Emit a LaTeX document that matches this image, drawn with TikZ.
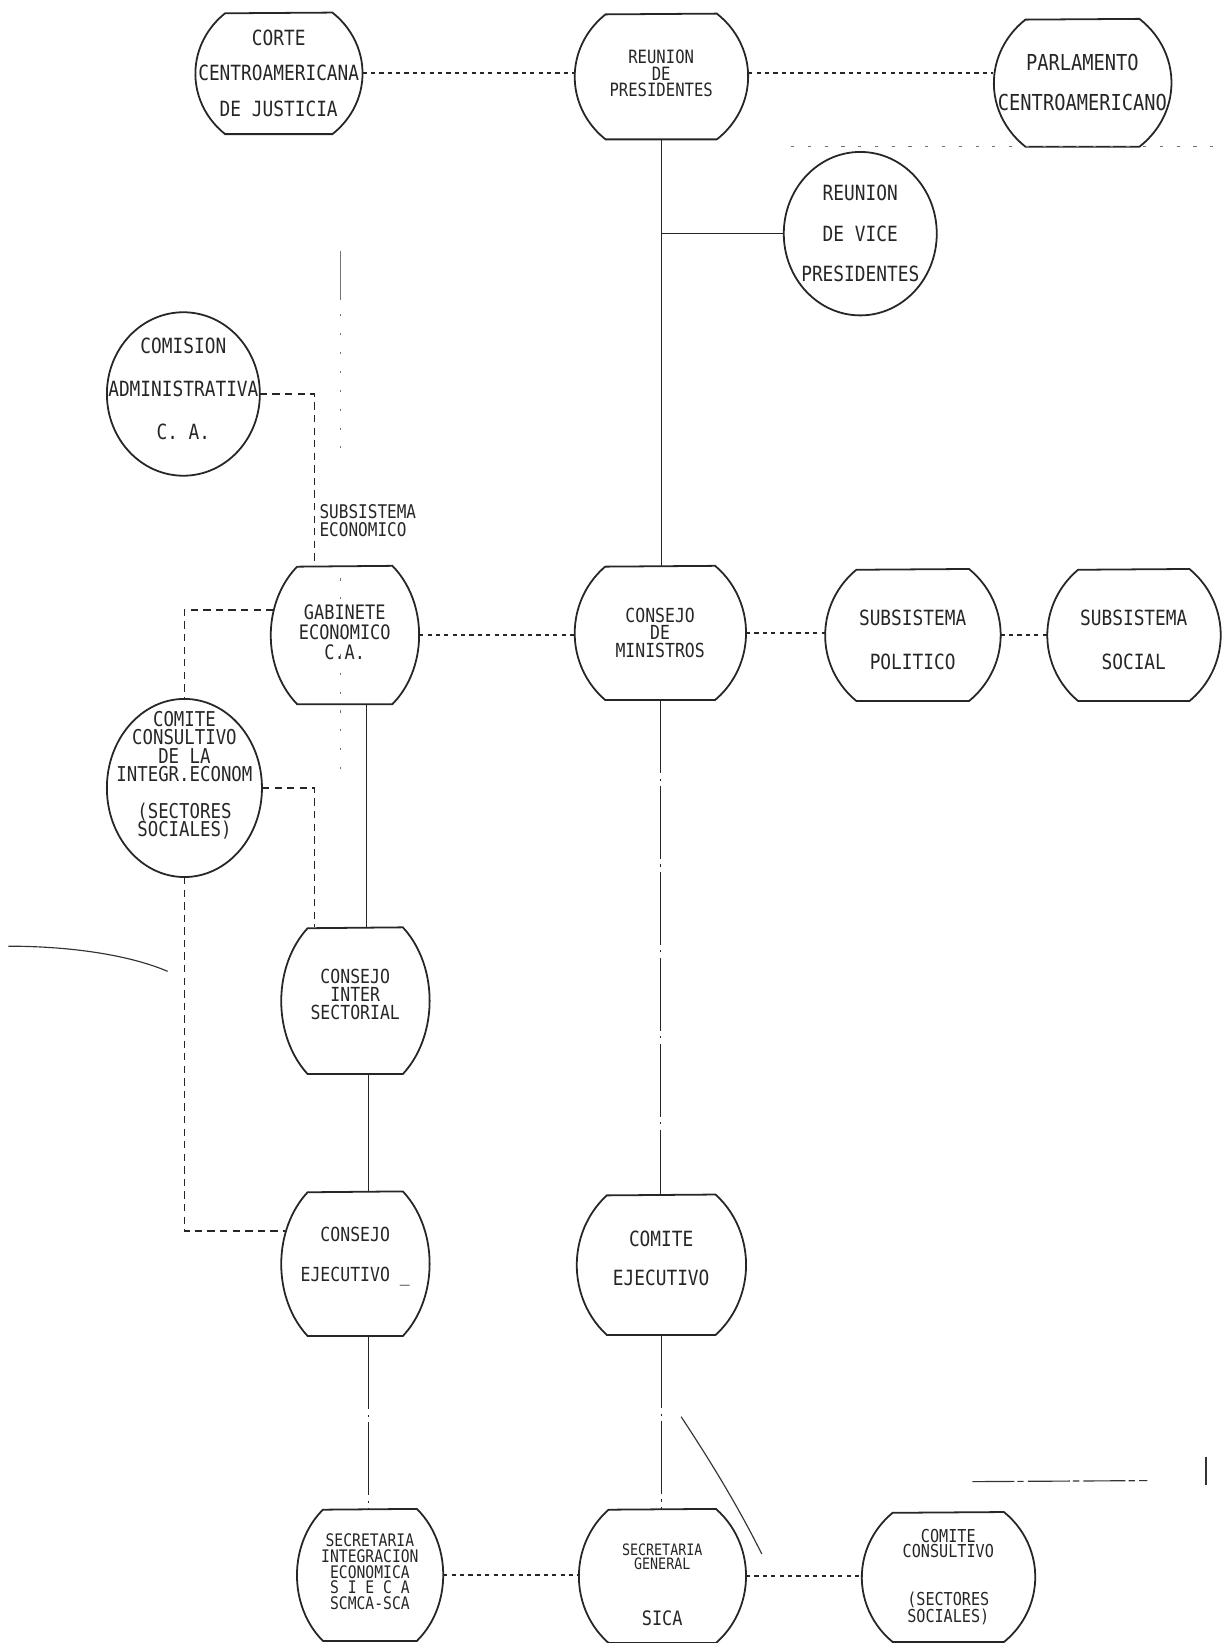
\documentclass[tikz,border=0pt]{standalone}
\usepackage{fontspec}
\newfontfamily\dm[FakeStretch=0.85]{DejaVu Sans Mono}
\usetikzlibrary{calc}
\tikzset{
 outline/.style={line width=1.7pt, black!85},
 anchorbox/.style={inner sep=0pt, outer sep=0pt},
 txt/.style={inner sep=0pt, outer sep=0pt, align=center, text=black!85},
 dotline/.style={line width=1.7pt, dash pattern=on 4pt off 4pt, black!85},
 dashline/.style={line width=1.5pt, dash pattern=on 7pt off 5pt, black!85},
 solidline/.style={line width=1.1pt, black!85},
 dashdot/.style={line width=1.1pt, dash pattern=on 70pt off 5pt on 2pt off 5pt, black!85},
 faint/.style={line width=0.8pt, black!55},
 stray/.style={line width=1.1pt, black!80},
}
% [font]{name}{cx}{cy}{half width}{half height}{text dy}{text}
\newcommand\barrelnode[8][]{%
  \node[anchorbox, minimum width={2*#5pt}, minimum height={2*#6pt}] (#2) at (#3,#4) {};
  \node[txt,#1] (#2-t) at (#3,#4+#7) {#8};
  \draw[outline] (#3+0.64*#5,#4-#6)
     arc[start angle=50.21, end angle=-50.21, x radius=#5pt, y radius={1.3016*#6pt}]
     -- (#3-0.64*#5,#4+#6)
     arc[start angle=229.79, end angle=130.21, x radius=#5pt, y radius={1.3016*#6pt}]
     -- cycle;
}
\newcommand\ovalnode[8][]{%
  \node[anchorbox, minimum width={2*#5pt}, minimum height={2*#6pt}] (#2) at (#3,#4) {};
  \node[txt,#1] (#2-t) at (#3,#4+#7) {#8};
  \draw[outline] (#3,#4) ellipse [x radius=#5pt, y radius=#6pt];
}
\begin{document}
\begin{tikzpicture}[x=1pt,y=-1pt]
\useasboundingbox (0,0) rectangle (1168,1568);

% top row
\barrelnode[font=\dm\fontsize{20}{34}\selectfont]{corte}{266}{70}{80}{58}{0}{CORTE\\CENTROAMERICANA\\DE JUSTICIA}
\barrelnode[font=\dm\fontsize{17.5}{16}\selectfont]{reunion}{631}{73}{83}{60}{-3}{REUNION\\DE\\PRESIDENTES}
\barrelnode[font=\dm\fontsize{21}{38}\selectfont]{parla}{1033}{79}{85}{61}{0}{PARLAMENTO\\CENTROAMERICANO}
\ovalnode[font=\dm\fontsize{20}{38.5}\selectfont]{vice}{821}{223}{73}{78}{0}{REUNION\\DE VICE\\PRESIDENTES}

% left column
\ovalnode[font=\dm\fontsize{20}{41}\selectfont]{comision}{175}{376}{73}{78}{-5}{COMISION\\ADMINISTRATIVA\\C. A.}
\node[txt, anchor=west, align=left, font=\dm\fontsize{18}{16.5}\selectfont] (subeco) at (305,497) {SUBSISTEMA\\ECONOMICO};

% middle row
\barrelnode[font=\dm\fontsize{19}{19}\selectfont]{gab}{329}{606}{71}{66}{-3}{GABINETE\\ECONOMICO\\C.A.}
\barrelnode[font=\dm\fontsize{18.5}{16.5}\selectfont]{minis}{630}{604}{82}{64}{0}{CONSEJO\\DE\\MINISTROS}
\barrelnode[font=\dm\fontsize{20}{42}\selectfont]{polit}{871}{606}{84}{63}{5}{SUBSISTEMA\\POLITICO}
\barrelnode[font=\dm\fontsize{20}{42}\selectfont]{social}{1082}{606}{83}{63}{5}{SUBSISTEMA\\SOCIAL}

\ovalnode[font=\dm\fontsize{19.5}{17.5}\selectfont]{cc}{176}{752}{74}{85}{-12}{COMITE\\CONSULTIVO\\DE LA\\INTEGR.ECONOM\\[17.5pt](SECTORES\\SOCIALES)}

\barrelnode[font=\dm\fontsize{18.5}{17}\selectfont]{inter}{339}{955}{71}{70}{-6}{CONSEJO\\INTER\\SECTORIAL}
\barrelnode[font=\dm\fontsize{18.5}{38}\selectfont]{cejec}{339}{1206}{71}{69}{-7}{CONSEJO\\EJECUTIVO\ \_}
\barrelnode[font=\dm\fontsize{20}{37}\selectfont]{comej}{631}{1207}{81}{67}{-6}{COMITE\\EJECUTIVO}

% bottom row
\barrelnode[font=\dm\fontsize{16.5}{15}\selectfont]{sieca}{353}{1503}{70}{63}{-3}{SECRETARIA\\INTEGRACION\\ECONOMICA\\S I E C A\\SCMCA-SCA}
\barrelnode[font=\dm\fontsize{15}{13.5}\selectfont]{sica}{632}{1504}{80}{64}{8}{SECRETARIA\\GENERAL\\[38pt]{\fontsize{19}{13.5}\selectfont SICA}}
\barrelnode[font=\dm\fontsize{17}{14.5}\selectfont]{ccss}{905}{1505}{83}{62}{0}{COMITE\\CONSULTIVO\\[32pt](SECTORES\\SOCIALES)}

% connectors
\draw[dotline] (corte.east) -- (corte.east -| reunion.west);
\draw[dotline] (reunion.east |- corte.east) -- (parla.west |- corte.east);
\draw[solidline] (reunion.south) -- (reunion.south |- minis.north);
\coordinate (vj) at (reunion.south |- vice.west);
\draw[solidline] (vj) -- (vice.west);
\draw[dashline] (comision.east) -- ++(52,0) coordinate (c1) -- (c1 |- gab.north);
\draw[dotline] (gab.east) -- (gab.east -| minis.west);
\draw[dotline] (minis.east) -- (minis.east -| polit.west);
\draw[dotline] (polit.east) -- (polit.east -| social.west);
\draw[dashline] ($(gab.west)+(3,-24)$) -| (cc.north);
\draw[dashline] (cc.east) -- ++(50,0) coordinate (c2) -- (c2 |- inter.north);
\draw[dashline] (cc.south) |- ($(cejec.west)+(4,-31)$);
\draw[solidline] ($(gab.south)+(21,0)$) -- ($(inter.north)+(11,0)$);
\draw[solidline] ($(inter.south)+(13,0)$) -- ($(cejec.north)+(13,0)$);
\draw[dashdot] (minis.south) -- (minis.south |- comej.north);
\draw[dashdot] ($(cejec.south)+(13,0)$) coordinate (c3) -- (c3 |- sieca.north);
\draw[dashdot] (comej.south) -- (comej.south |- sica.north);
\draw[dotline] (sieca.east) -- (sieca.east -| sica.west);
\draw[dotline] (sica.east) -- (sica.east -| ccss.west);

% faint marks and stray strokes of the scan
\draw[faint] (325,240) -- (325,286);
\draw[faint, dash pattern=on 2pt off 16pt] (325,300) -- (325,440);
\draw[faint, dash pattern=on 2pt off 16pt] (325,552) -- (325,745);
\draw[faint, dash pattern=on 3pt off 13pt] (755,140) -- (1168,140);
\draw[stray] (8,903) .. controls (70,903) and (125,912) .. (160,927);
\draw[stray] (650,1352) .. controls (685,1405) and (708,1445) .. (727,1483);
\draw[stray, dash pattern=on 40pt off 3pt on 6pt off 4pt] (928,1414) -- (1095,1413);
\draw[stray] (1151,1390) -- (1151,1417);
\end{tikzpicture}
\end{document}
